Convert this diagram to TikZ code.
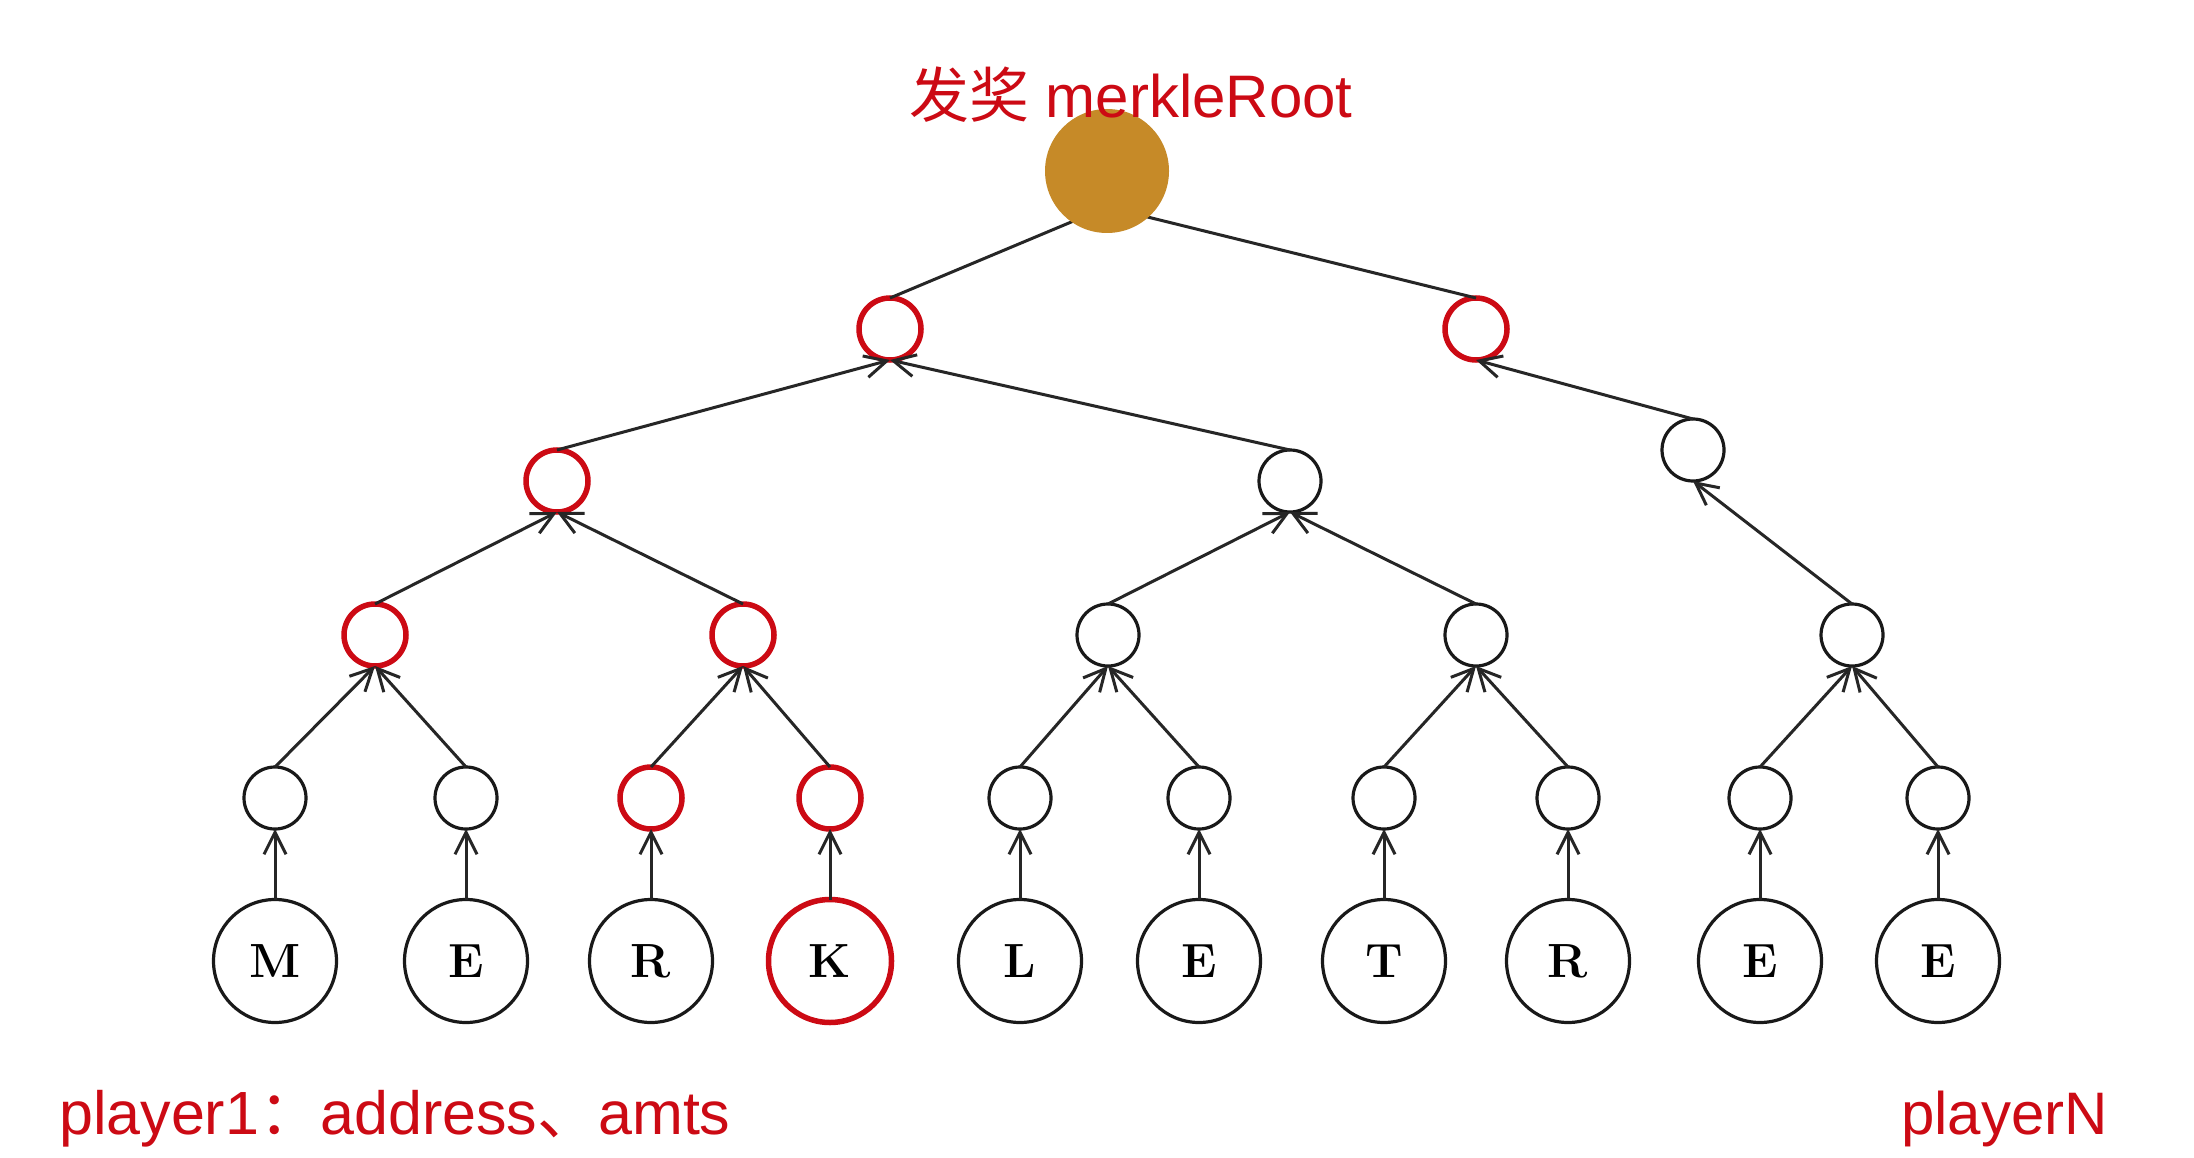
\documentclass[tikz,border=0pt]{standalone}
\usepackage{fontspec}
\newfontfamily\cjk{Noto Sans CJK SC}
\newfontfamily\lat{Liberation Sans}
\usetikzlibrary{arrows.meta}
\definecolor{hred}{HTML}{CC0A14}
\definecolor{rootc}{HTML}{C68A28}
\begin{document}
\begin{tikzpicture}[x=1pt,y=-1pt,
  hn/.style={circle,draw=black!90,line width=3.2pt,minimum size=62pt,inner sep=0pt,outer sep=0pt},
  hl/.style={hn,draw=hred,line width=5.5pt},
  leaf/.style={circle,draw=black!90,line width=3.2pt,minimum size=123pt,inner sep=0pt,outer sep=0pt,font=\fontsize{48}{50}\selectfont\bfseries},
  leafred/.style={leaf,draw=hred,line width=5.5pt},
  edgeline/.style={line width=3pt,draw=black!85},
  arr/.style={edgeline,-{Straight Barb[length=22pt,width=22pt,line width=3pt]}},
  lbl/.style={text=hred,font=\lat\fontsize{60}{64}\selectfont,inner sep=0pt}]

\useasboundingbox[fill=white] (0,0) rectangle (2194,1158);

% level 1
\node[hl] (l1a) at (890,329) {};
\node[hl] (l1b) at (1476,329) {};
% level 2
\node[hl] (l2a) at (557,481) {};
\node[hn] (l2b) at (1290,481) {};
\node[hn] (l2c) at (1693,450) {};
% level 3
\node[hl] (l3a) at (375,635) {};
\node[hl] (l3b) at (743,635) {};
\node[hn] (l3c) at (1108,635) {};
\node[hn] (l3d) at (1476,635) {};
\node[hn] (l3e) at (1852,635) {};
% level 4
\node[hn] (l4a) at (275,798) {};
\node[hn] (l4b) at (466,798) {};
\node[hl] (l4c) at (651,798) {};
\node[hl] (l4d) at (830,798) {};
\node[hn] (l4e) at (1020,798) {};
\node[hn] (l4f) at (1199,798) {};
\node[hn] (l4g) at (1384,798) {};
\node[hn] (l4h) at (1568,798) {};
\node[hn] (l4i) at (1760,798) {};
\node[hn] (l4j) at (1938,798) {};
% leaves
\node[leaf] (la) at (275,961) {M};
\node[leaf] (lb) at (466,961) {E};
\node[leaf] (lc) at (651,961) {R};
\node[leafred] (ld) at (830,961) {K};
\node[leaf] (le) at (1020,961) {L};
\node[leaf] (lf) at (1199,961) {E};
\node[leaf] (lg) at (1384,961) {T};
\node[leaf] (lh) at (1568,961) {R};
\node[leaf] (li) at (1760,961) {E};
\node[leaf] (lj) at (1938,961) {E};

% connectors
\coordinate (rootS) at (1107,207);
\draw[edgeline] (l1a.north) -- (rootS);
\draw[edgeline] (l1b.north) -- (rootS);

\draw[arr] (l2a.north) -- (l1a.south);
\draw[arr] (l2b.north) -- (l1a.south);
\draw[arr] (l2c.north) -- (l1b.south);

\draw[arr] (l3a.north) -- (l2a.south);
\draw[arr] (l3b.north) -- (l2a.south);
\draw[arr] (l3c.north) -- (l2b.south);
\draw[arr] (l3d.north) -- (l2b.south);
\draw[arr] (l3e.north) -- (l2c.south);

\draw[arr] (l4a.north) -- (l3a.south);
\draw[arr] (l4b.north) -- (l3a.south);
\draw[arr] (l4c.north) -- (l3b.south);
\draw[arr] (l4d.north) -- (l3b.south);
\draw[arr] (l4e.north) -- (l3c.south);
\draw[arr] (l4f.north) -- (l3c.south);
\draw[arr] (l4g.north) -- (l3d.south);
\draw[arr] (l4h.north) -- (l3d.south);
\draw[arr] (l4i.north) -- (l3e.south);
\draw[arr] (l4j.north) -- (l3e.south);

\draw[arr] (la.north) -- (l4a.south);
\draw[arr] (lb.north) -- (l4b.south);
\draw[arr] (lc.north) -- (l4c.south);
\draw[arr] (ld.north) -- (l4d.south);
\draw[arr] (le.north) -- (l4e.south);
\draw[arr] (lf.north) -- (l4f.south);
\draw[arr] (lg.north) -- (l4g.south);
\draw[arr] (lh.north) -- (l4h.south);
\draw[arr] (li.north) -- (l4i.south);
\draw[arr] (lj.north) -- (l4j.south);

% root
\node[circle,fill=rootc,minimum size=124pt,inner sep=0pt] (root) at (1107,171) {};

% labels
\node[lbl,anchor=base west] (title) at (909,118) {{\cjk 发奖} merkleRoot};
\node[lbl,anchor=base west,font=\lat\fontsize{61}{64}\selectfont] (p1) at (59,1134) {player1{\cjk ：}address{\cjk 、}amts};
\node[lbl,anchor=base west] (pN) at (1901,1134) {playerN};
\end{tikzpicture}
\end{document}
